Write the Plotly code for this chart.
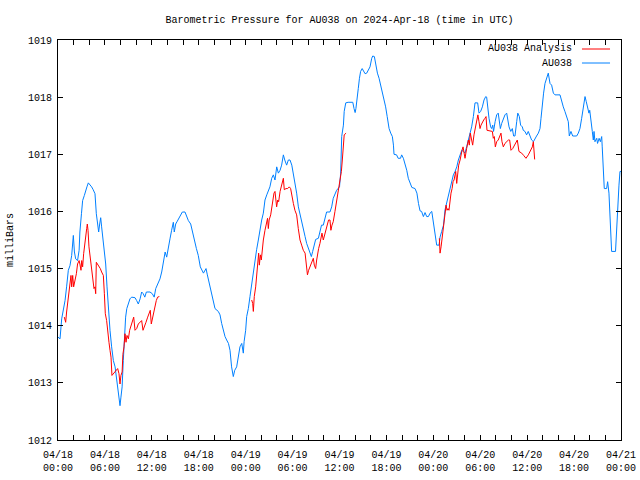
import plotly.graph_objects as go

# hours since 2024-04-18 00:00 UTC
obs_hours = [
    0.0, 0.26, 0.47, 0.68, 0.9, 1.1, 1.32, 1.53, 1.75, 1.96, 2.1, 2.26, 2.5, 2.7, 2.8, 3.0, 3.15, 3.37,
    3.54, 3.7, 3.88, 4.1, 4.3, 4.5, 4.73, 4.9, 5.07, 5.2, 5.33, 5.46, 5.58, 5.8, 5.93, 6.1, 6.27, 6.44,
    6.65, 6.86, 7.08, 7.3, 7.5, 7.63, 7.8, 7.93, 8.05, 8.2, 8.35, 8.48, 8.65, 8.8, 9.0, 9.2, 9.42, 9.85,
    10.06, 10.27, 10.5, 10.7, 10.9, 11.1, 11.3, 11.76, 12.06, 12.3, 12.5, 12.8, 13.04, 13.26, 13.5, 13.7,
    13.9, 14.1, 14.32, 14.53, 14.75, 14.87, 15.05, 15.26, 15.5, 15.7, 15.9, 16.24, 16.45, 16.67, 16.97,
    17.2, 17.4, 17.7, 17.94, 18.2, 18.6, 18.93, 19.1, 19.35, 19.65, 19.87, 20.08, 20.5, 20.72, 20.93,
    21.14, 21.36, 21.57, 21.8, 22.0, 22.2, 22.42, 22.6, 22.85, 23.06, 23.27, 23.5, 23.7, 23.8, 24.0,
    24.13, 24.34, 24.55, 24.77, 24.98, 25.2, 25.4, 25.62, 25.83, 26.05, 26.26, 26.47, 26.7, 26.9, 27.1,
    27.33, 27.54, 27.75, 27.97, 28.18, 28.4, 28.6, 28.82, 29.0, 29.24, 29.46, 29.67, 29.9, 30.1, 30.3,
    30.52, 30.74, 30.95, 31.16, 31.37, 31.6, 31.8, 32.0, 32.23, 32.4, 32.57, 32.74, 32.95, 33.3, 33.5,
    33.7, 33.93, 34.14, 34.35, 34.78, 35.0, 35.2, 35.42, 35.63, 36.0, 36.15, 36.28, 36.5, 36.6, 36.8,
    37.1, 37.7, 37.86, 38.0, 38.1, 38.3, 38.4, 38.55, 38.7, 38.9, 39.05, 39.27, 39.48, 39.7, 39.9,
    40.12, 40.25, 40.46, 40.63, 40.85, 41.06, 41.27, 41.48, 41.7, 41.9, 42.1, 42.34, 42.55, 42.76,
    42.9, 42.97, 43.3, 43.5, 43.8, 43.95, 44.17, 44.38, 44.6, 44.8, 45.0, 45.25, 45.66, 45.9, 46.1,
    46.3, 46.5, 46.73, 46.94, 47.15, 47.37, 47.58, 47.8, 48.0, 48.2, 48.43, 48.73, 48.86, 49.07, 49.3,
    49.5, 49.7, 49.93, 50.14, 50.35, 50.56, 50.78, 51.0, 51.2, 51.42, 51.63, 51.85, 52.05, 52.26,
    52.48, 52.7, 52.9, 53.12, 53.33, 53.67, 53.84, 54.05, 54.27, 54.48, 54.7, 54.82, 54.95, 55.12,
    55.33, 55.46, 55.6, 55.7, 55.9, 56.1, 56.3, 56.44, 56.57, 56.74, 56.95, 57.16, 57.38, 57.5, 57.68,
    57.9, 58.1, 58.27, 58.44, 58.66, 58.8, 59.0, 59.16, 59.38, 59.5, 59.72, 59.93, 60.14, 60.36, 60.57,
    60.8, 61.0, 61.2, 61.43, 61.64, 61.77, 61.94, 62.1, 62.28, 62.5, 62.7, 62.92, 63.13, 63.35, 63.56,
    64.2, 64.4, 64.62, 64.83, 65.05, 65.26, 65.39, 65.6, 65.82, 66.33, 66.54, 66.75, 66.97, 67.18,
    67.4, 67.56, 67.73, 67.9, 68.0, 68.16, 68.33, 68.46, 68.55, 68.67, 68.9, 69.0, 69.2, 69.36, 69.53,
    69.6, 69.74, 69.86, 70.16, 70.29, 70.46, 70.6, 70.7, 70.8, 71.3, 71.44, 71.57, 71.74, 71.87, 72.0,
]
obs_mb = [
    1013.8, 1013.77, 1014.12, 1014.27, 1014.44, 1014.68, 1014.97, 1015.05, 1015.23, 1015.58, 1015.29,
    1015.17, 1015.14, 1015.32, 1015.64, 1015.96, 1016.19, 1016.28, 1016.34, 1016.43, 1016.5, 1016.47,
    1016.43, 1016.38, 1016.31, 1015.96, 1015.78, 1015.64, 1015.78, 1015.89, 1015.73, 1015.49, 1015.35,
    1015.08, 1014.68, 1014.27, 1013.92, 1013.63, 1013.39, 1013.28, 1013.04, 1012.87, 1012.75, 1012.6,
    1012.75, 1012.93, 1013.39, 1013.74, 1014.15, 1014.3, 1014.38, 1014.47, 1014.5, 1014.49, 1014.44,
    1014.38, 1014.47, 1014.59, 1014.56, 1014.5, 1014.59, 1014.59, 1014.56, 1014.5, 1014.65, 1014.73,
    1014.82, 1014.94, 1015.14, 1015.29, 1015.2, 1015.38, 1015.52, 1015.67, 1015.81, 1015.64, 1015.78,
    1015.83, 1015.89, 1015.93, 1015.99, 1015.99, 1015.9, 1015.84, 1015.78, 1015.64, 1015.49, 1015.35,
    1015.23, 1015.03, 1014.92, 1015.0, 1014.89, 1014.74, 1014.57, 1014.39, 1014.3, 1014.25, 1014.19,
    1014.04, 1013.92, 1013.81, 1013.75, 1013.69, 1013.57, 1013.28, 1013.11, 1013.22, 1013.28, 1013.46,
    1013.63, 1013.69, 1013.52, 1013.72, 1013.92, 1014.16, 1014.3, 1014.51, 1014.74, 1014.92, 1015.15,
    1015.33, 1015.5, 1015.7, 1015.85, 1015.97, 1016.2, 1016.29, 1016.35, 1016.43, 1016.58, 1016.64,
    1016.55, 1016.78, 1016.67, 1016.72, 1016.81, 1016.99, 1016.9, 1016.81, 1016.9, 1016.9, 1016.81,
    1016.67, 1016.49, 1016.32, 1016.08, 1015.94, 1015.79, 1015.67, 1015.56, 1015.44, 1015.35, 1015.27,
    1015.21, 1015.3, 1015.38, 1015.51, 1015.53, 1015.67, 1015.76, 1015.76, 1015.91, 1015.99, 1015.99,
    1016.08, 1016.23, 1016.29, 1016.37, 1016.43, 1016.67, 1017.31, 1017.51, 1017.75, 1017.9, 1017.91,
    1017.91, 1017.8, 1017.73, 1017.8, 1017.98, 1018.15, 1018.33, 1018.45, 1018.5, 1018.45, 1018.41,
    1018.42, 1018.47, 1018.53, 1018.68, 1018.72, 1018.71, 1018.56, 1018.42, 1018.33, 1018.21, 1018.12,
    1017.98, 1017.83, 1017.66, 1017.45, 1017.37, 1017.31, 1017.16, 1017.0, 1016.99, 1016.93, 1016.93,
    1016.99, 1016.93, 1016.84, 1016.72, 1016.58, 1016.49, 1016.42, 1016.4, 1016.32, 1016.14, 1016.01,
    1016.0, 1015.91, 1015.98, 1015.91, 1015.91, 1015.97, 1016.0, 1015.82, 1015.62, 1015.41, 1015.41,
    1015.55, 1015.65, 1015.76, 1016.03, 1016.14, 1016.26, 1016.38, 1016.49, 1016.64, 1016.7, 1016.78,
    1016.9, 1016.99, 1017.07, 1017.05, 1017.02, 1017.13, 1017.25, 1017.4, 1017.48, 1017.66, 1017.9,
    1017.9, 1017.72, 1017.75, 1017.83, 1017.95, 1018.01, 1018.0, 1017.77, 1017.63, 1017.48, 1017.45,
    1017.51, 1017.4, 1017.57, 1017.69, 1017.72, 1017.54, 1017.45, 1017.54, 1017.63, 1017.69, 1017.72,
    1017.63, 1017.48, 1017.4, 1017.45, 1017.32, 1017.32, 1017.57, 1017.72, 1017.66, 1017.51, 1017.48,
    1017.42, 1017.4, 1017.34, 1017.4, 1017.31, 1017.25, 1017.22, 1017.28, 1017.32, 1017.37, 1017.45,
    1017.63, 1017.89, 1018.07, 1018.24, 1018.33, 1018.42, 1018.24, 1018.21, 1018.07, 1018.04, 1018.04,
    1017.92, 1017.83, 1017.75, 1017.66, 1017.57, 1017.32, 1017.4, 1017.32, 1017.32, 1017.37, 1017.45,
    1017.63, 1017.83, 1018.01, 1017.92, 1017.83, 1017.72, 1017.77, 1017.63, 1017.4, 1017.25, 1017.4,
    1017.22, 1017.28, 1017.19, 1017.28, 1017.22, 1017.31, 1017.13, 1016.84, 1016.4, 1016.4, 1016.52,
    1016.32, 1015.91, 1015.5, 1015.3, 1015.3, 1015.74, 1016.09, 1016.46, 1016.7, 1016.7,
]

ana_hours = [
    0.81, 0.98, 1.1, 1.24, 1.4, 1.53, 1.66, 1.75, 1.88, 2.0, 2.17, 2.35, 2.5, 2.7, 2.8, 2.94, 3.03,
    3.15, 3.28, 3.4, 3.54, 3.67, 3.75, 3.84, 3.96, 4.1, 4.22, 4.35, 4.48, 4.6, 4.73, 4.82, 4.9, 5.07,
    5.24, 5.41, 5.58, 5.8, 5.93, 6.05, 6.22, 6.35, 6.52, 6.65, 6.78, 6.9, 7.08, 7.3, 7.5, 7.63, 7.8,
    7.93, 8.05, 8.2, 8.3, 8.44, 8.57, 8.7, 8.82, 9.0, 9.16, 9.33, 9.5, 9.68, 9.85, 10.06, 10.27, 10.5,
    10.7, 10.87, 11.04, 11.25, 11.47, 11.68, 11.8, 11.93, 12.06, 12.23, 12.4, 12.57, 12.74, 12.96,
    None,
    24.77, 24.9, 24.98, 25.1, 25.28, 25.4, 25.53, 25.66, 25.75, 25.88, 26.0, 26.13, 26.26, 26.47, 26.7,
    26.8, 26.9, 27.0, 27.2, 27.33, 27.45, 27.62, 27.75, 27.88, 27.96, 28.1, 28.22, 28.4, 28.56, 28.73,
    28.82, 28.94, 29.16, 29.37, 29.58, 29.75, 29.88, 30.1, 30.3, 30.52, 30.73, 30.95, 31.16, 31.37,
    31.6, 31.72, 31.9, 32.05, 32.23, 32.44, 32.65, 32.78, 32.95, 33.08, 33.2, 33.33, 33.5, 33.63,
    33.76, 33.93, 34.1, 34.27, 34.44, 34.6, 34.78, 34.9, 35.04, 35.2, 35.42, 35.63, 35.85, 36.0, 36.1,
    36.24, 36.36, 36.5, 36.6, 36.84,
    None,
    48.77, 48.86, 48.99, 49.11, 49.24, 49.37, 49.5, 49.63, 49.75, 49.88, 50.0, 50.14, 50.26, 50.4,
    50.52, 50.65, 50.73, 50.86, 50.99, 51.12, 51.24, 51.42, 51.54, 51.67, 51.8, 51.93, 52.05, 52.26,
    52.48, 52.6, 52.73, 52.9, 53.03, 53.2, 53.33, 53.46, 53.58, 53.7, 53.84, 53.97, 54.1, 54.27, 54.44,
    54.6, 54.74, 54.86, 55.12, 55.37, 55.55, 55.67, 55.8, 55.93, 56.1, 56.3, 56.5, 56.65, 56.78, 56.95,
    57.16, 57.38, 57.6, 57.76, 57.93, 58.15, 58.36, 58.57, 58.74, 58.95, 59.3, 59.55, 59.85, 60.15,
    60.4, 60.66, 60.79, 60.92, 60.96,
]
ana_mb = [
    1014.15, 1014.06, 1014.24, 1014.41, 1014.68, 1014.82, 1014.88, 1014.68, 1014.88, 1014.68, 1014.79,
    1014.91, 1015.08, 1015.14, 1015.08, 1014.97, 1015.14, 1015.03, 1015.26, 1015.43, 1015.58, 1015.7,
    1015.78, 1015.67, 1015.38, 1015.2, 1015.08, 1014.91, 1014.79, 1014.65, 1014.68, 1014.56, 1015.11,
    1015.08, 1015.03, 1015.0, 1014.94, 1014.88, 1014.56, 1014.21, 1014.09, 1013.86, 1013.71, 1013.57,
    1013.45, 1013.13, 1013.16, 1013.19, 1013.22, 1013.25, 1013.16, 1012.98, 1013.13, 1013.19, 1013.5,
    1013.63, 1013.86, 1013.71, 1013.83, 1013.77, 1013.92, 1014.0, 1014.06, 1014.15, 1013.92, 1013.95,
    1014.03, 1014.06, 1014.09, 1013.92, 1014.0, 1014.06, 1014.15, 1014.21, 1014.27, 1014.03, 1014.12,
    1014.18, 1014.33, 1014.44, 1014.5, 1014.51,
    None,
    1014.45, 1014.39, 1014.25, 1014.51, 1014.68, 1014.92, 1015.15, 1015.27, 1015.06, 1015.24, 1015.15,
    1015.33, 1015.5, 1015.67, 1015.85, 1015.88, 1015.7, 1015.85, 1015.94, 1016.08, 1016.2, 1016.32,
    1016.35, 1016.23, 1016.08, 1016.2, 1016.17, 1016.35, 1016.46, 1016.52, 1016.58, 1016.38, 1016.4,
    1016.4, 1016.43, 1016.4, 1016.29, 1016.14, 1016.02, 1015.94, 1015.7, 1015.5, 1015.41, 1015.32,
    1015.27, 1015.12, 1014.89, 1014.97, 1015.03, 1015.09, 1015.18, 1015.06, 1015.0, 1015.15, 1015.27,
    1015.35, 1015.44, 1015.56, 1015.62, 1015.5, 1015.59, 1015.67, 1015.79, 1015.85, 1015.85, 1015.67,
    1015.76, 1015.82, 1016.0, 1016.17, 1016.32, 1016.43, 1016.55, 1016.7, 1016.9, 1017.28, 1017.34,
    1017.37,
    None,
    1015.53, 1015.27, 1015.38, 1015.5, 1015.67, 1015.85, 1015.97, 1016.11, 1016.02, 1016.05, 1016.02,
    1016.23, 1016.32, 1016.4, 1016.52, 1016.55, 1016.6, 1016.7, 1016.49, 1016.64, 1016.81, 1016.9,
    1017.02, 1017.07, 1017.13, 1017.02, 1016.93, 1017.1, 1017.25, 1017.16, 1017.37, 1017.25, 1017.16,
    1017.34, 1017.45, 1017.54, 1017.63, 1017.69, 1017.57, 1017.45, 1017.51, 1017.57, 1017.6, 1017.63,
    1017.66, 1017.42, 1017.41, 1017.41, 1017.4, 1017.28, 1017.31, 1017.13, 1017.22, 1017.25, 1017.34,
    1017.37, 1017.22, 1017.13, 1017.19, 1017.22, 1017.25, 1017.25, 1017.07, 1017.1, 1017.16, 1017.22,
    1017.25, 1017.05, 1017.02, 1016.98, 1016.93, 1016.99, 1017.05, 1017.13, 1017.22, 1017.05, 1016.91,
]

tick_hours = [0, 6, 12, 18, 24, 30, 36, 42, 48, 54, 60, 66, 72]
tick_labels = [
    "04/18<br>00:00", "04/18<br>06:00", "04/18<br>12:00", "04/18<br>18:00",
    "04/19<br>00:00", "04/19<br>06:00", "04/19<br>12:00", "04/19<br>18:00",
    "04/20<br>00:00", "04/20<br>06:00", "04/20<br>12:00", "04/20<br>18:00",
    "04/21<br>00:00",
]
y_ticks = [1012, 1013, 1014, 1015, 1016, 1017, 1018, 1019]
series_names = ["AU038 Analysis", "AU038"]
series_colors = ["#ff0000", "#0080ff"]

FONT = "Liberation Mono"

fig = go.Figure()
fig.add_trace(go.Scatter(x=obs_hours, y=obs_mb, mode="lines", name=series_names[1],
                         line=dict(color=series_colors[1], width=1), showlegend=False))
fig.add_trace(go.Scatter(x=ana_hours, y=ana_mb, mode="lines", name=series_names[0],
                         line=dict(color=series_colors[0], width=1), connectgaps=False,
                         showlegend=False))

# gnuplot-style legend: text right-aligned, sample line to the right
legend_y = [0.9775, 0.9425]
for name, color, ly in zip(series_names, series_colors, legend_y):
    fig.add_annotation(x=0.9165, y=ly, xref="paper", yref="paper", text=name,
                       showarrow=False, xanchor="right", yanchor="middle",
                       font=dict(family=FONT, size=10, color="black"))
    fig.add_shape(type="line", xref="paper", yref="paper", x0=0.9307, x1=0.9805, y0=ly, y1=ly,
                  line=dict(color=color, width=1))

fig.add_annotation(x=-0.0853, y=0.5, xref="paper", yref="paper", text="milliBars",
                   textangle=-90, showarrow=False, xanchor="center", yanchor="middle",
                   font=dict(family=FONT, size=10, color="black"))

fig.update_layout(
    width=640, height=480, autosize=False,
    margin=dict(l=58, r=19, t=40, b=40, pad=0),
    paper_bgcolor="white", plot_bgcolor="white",
    font=dict(family=FONT, size=10, color="black"),
    title=dict(text="Barometric Pressure for AU038 on 2024-Apr-18 (time in UTC)",
               x=0.5, xref="paper", xanchor="center", y=0.9604, yanchor="middle",
               font=dict(family=FONT, size=10, color="black")),
    xaxis=dict(range=[0, 72], tickmode="array", tickvals=tick_hours, ticktext=tick_labels,
               automargin=False,
               showgrid=False, zeroline=False, showline=True, linecolor="black", linewidth=1,
               mirror="ticks", ticks="inside", ticklen=5, tickcolor="black",
               ticklabelstandoff=5,
               minor=dict(dtick=2, tick0=0, ticks="inside", ticklen=5, tickcolor="black",
                          showgrid=False)),
    yaxis=dict(range=[1012, 1019], tickmode="array", tickvals=y_ticks, automargin=False,
               showgrid=False, zeroline=False, showline=True, linecolor="black", linewidth=1,
               mirror="ticks", ticks="inside", ticklen=5, tickcolor="black",
               ticklabelstandoff=3),
)

# remove the browser's default 8px page margin so the figure sits at the window origin
fig.write_html("out.html", config={"displayModeBar": False},
               post_script="document.body.style.margin='0';document.body.style.overflow='hidden';")
